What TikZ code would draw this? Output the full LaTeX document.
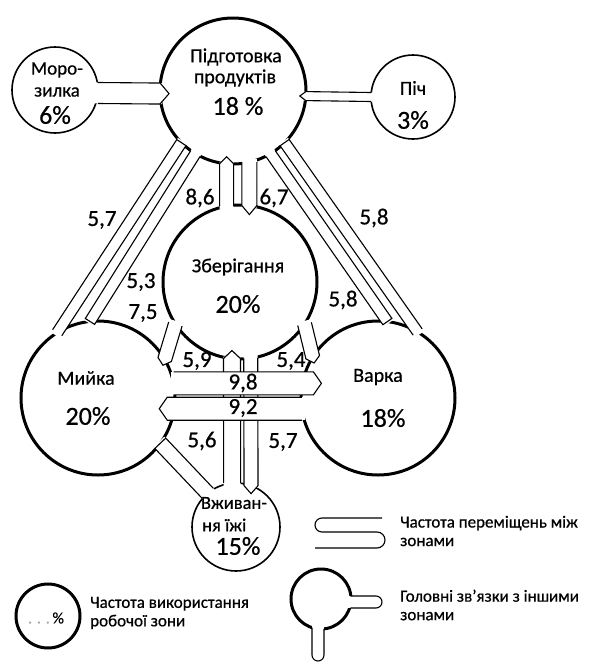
\documentclass[tikz,border=0pt]{standalone}
\usepackage{fontspec}
\setmainfont{Carlito}[FakeBold=0.6]
\usetikzlibrary{calc}

% channel between two zones: open end, closed end, half width, tip length
\newcommand{\chan}[4]{%
  \coordinate (ca) at (#1);
  \coordinate (cb) at (#2);
  \coordinate (ct) at ($(cb)!-#4!(ca)$);
  \coordinate (cf) at ($(ca)!-3pt!(cb)$);
  \coordinate (cg) at ($(cb)!-2pt!(ca)$);
  \fill[white] ($(cf)!#3!90:(cb)$) -- ($(cg)!#3!-90:(ca)$) -- ($(cg)!#3!90:(ca)$) -- ($(cf)!#3!-90:(cb)$) -- cycle;
  \fill[white] ($(cb)!#3!-90:(ca)$) -- (ct) -- ($(cb)!#3!90:(ca)$) -- cycle;
  \draw[chanline] ($(ca)!#3!90:(cb)$) -- ($(cb)!#3!-90:(ca)$) -- (ct) -- ($(cb)!#3!90:(ca)$) -- ($(ca)!#3!-90:(cb)$);
}

\begin{document}
\begin{tikzpicture}[x=1pt, y=-1pt,
  zone/.style={circle, draw, line width=3pt, inner sep=0pt, outer sep=0pt},
  smallzone/.style={zone, line width=1.6pt},
  chanline/.style={line width=1.1pt},
  zname/.style={font=\fontsize{20}{22}\selectfont, inner sep=0pt},
  zpct/.style={font=\fontsize{26}{28}\selectfont, inner sep=0pt},
  freq/.style={font=\fontsize{23}{25}\selectfont, inner sep=0pt},
  legtext/.style={font=\fontsize{17}{18.5}\selectfont, align=left, anchor=west, inner sep=0pt}]
\useasboundingbox (0,0) rectangle (598,665);

% zones
\node[zone, minimum size=146pt] (prep) at (233,91) {};
\node[smallzone, minimum size=86pt] (frz) at (55,90) {};
\node[smallzone, minimum size=84pt] (oven) at (413,97) {};
\node[zone, minimum size=154pt] (stor) at (240,282) {};
\node[zone, minimum size=154pt] (wash) at (98,398) {};
\node[zone, minimum size=154pt] (cook) at (378,398) {};
\node[smallzone, minimum size=88pt] (eat) at (236,527) {};

% channels
\chan{frz.-4}{prep.182}{10.5pt}{9pt}
\chan{oven.180}{prep.-4}{4.5pt}{6pt}
\chan{stor.100}{prep.265}{7pt}{7pt}
\chan{prep.283}{stor.83}{7.5pt}{9pt}
\chan{wash.122}{prep.225}{5.5pt}{0pt}
\chan{prep.239}{wash.96}{5.5pt}{0pt}
\chan{cook.59}{prep.315}{5.5pt}{0pt}
\chan{prep.301}{cook.83}{5.5pt}{0pt}
\chan{stor.213}{wash.30}{7pt}{6pt}
\chan{stor.327}{cook.148}{7pt}{6pt}
\chan{eat.130}{wash.-36}{7.5pt}{0pt}
\chan{eat.95}{stor.264}{8.5pt}{8pt}
\chan{stor.278}{eat.70}{7pt}{8pt}
\coordinate (h98) at ($(cook.169)+(11,0)$);
\coordinate (h92) at ($(wash.-8)+(-7,0)$);
\chan{wash.11}{h98}{11.5pt}{8pt}
\chan{cook.188}{h92}{11.5pt}{8pt}

% zone labels
\node[zname] (prepn1) at (236,57) {Підготовка};
\node[zname] (prepn2) at (235,78) {продуктів};
\node[zpct] (prepp) at (238,106) {18 \%};
\node[zname, font=\fontsize{19}{21}\selectfont] (frzn1) at (57,70) {Моро-};
\node[zname, font=\fontsize{19}{21}\selectfont] (frzn2) at (57,92) {зилка};
\node[zpct] (frzp) at (55,115) {6\%};
\node[zname] (ovenn) at (413,88) {Піч};
\node[zpct] (ovenp) at (413,120) {3\%};
\node[zname] (storn) at (238,267) {Зберігання};
\node[zpct] (storp) at (238,304) {20\%};
\node[zname] (washn) at (86,378) {Мийка};
\node[zpct] (washp) at (88,416) {20\%};
\node[zname] (cookn) at (378,377) {Варка};
\node[zpct] (cookp) at (383,418) {18\%};
\node[zname, font=\fontsize{18.5}{20}\selectfont] (eatn1) at (234,503) {Вживан-};
\node[zname, font=\fontsize{18.5}{20}\selectfont, anchor=west] (eatn2) at (202,525) {ня їжі};
\node[zpct] (eatp) at (238,546) {15\%};

% frequencies
\node[freq] (f57a) at (102,220) {5,7};
\node[freq] (f53) at (141,282) {5,3};
\node[freq] (f75) at (143,313) {7,5};
\node[freq] (f86) at (200,198) {8,6};
\node[freq] (f67) at (274,198) {6,7};
\node[freq] (f58a) at (374,218) {5,8};
\node[freq] (f58b) at (343,300) {5,8};
\node[freq] (f59) at (197,361) {5,9};
\node[freq] (f54) at (291,361) {5,4};
\node[freq] (f98) at (243,383) {9,8};
\node[freq] (f92) at (243,408) {9,2};
\node[freq] (f56) at (202,441) {5,6};
\node[freq] (f57b) at (283,442) {5,7};

% legend
\node[zone, minimum size=64pt] (leg1) at (48,616) {};
\node[font=\fontsize{16}{16}\selectfont, inner sep=0pt] (leg1t) at (46,618) {{\color{black!35}. . .}\,\%};
\node[legtext] (leg1n) at (90,613) {Частота використання\\робочої зони};
\draw[chanline] (382,518) -- (322,518) arc[start angle=-90, end angle=-270, radius=7]
  -- (377,532) arc[start angle=-90, end angle=90, radius=8] -- (315,548);
\node[legtext] (leg2n) at (400,531) {Частота переміщень між\\зонами};
\node[zone, minimum size=60pt] (leg3) at (321,599) {};
\fill[white] (347,596) rectangle (376,608);
\draw[chanline] (350.4,596) -- (376,596) arc[start angle=-90, end angle=90, radius=6] -- (350.4,608);
\fill[white] (312,625) rectangle (324,655);
\draw[chanline] (312,627.6) -- (312,655) arc[start angle=180, end angle=0, radius=6] -- (324,628.8);
\node[legtext] (leg3n) at (400,605) {Головні зв'язки з іншими\\зонами};
\end{tikzpicture}
\end{document}
